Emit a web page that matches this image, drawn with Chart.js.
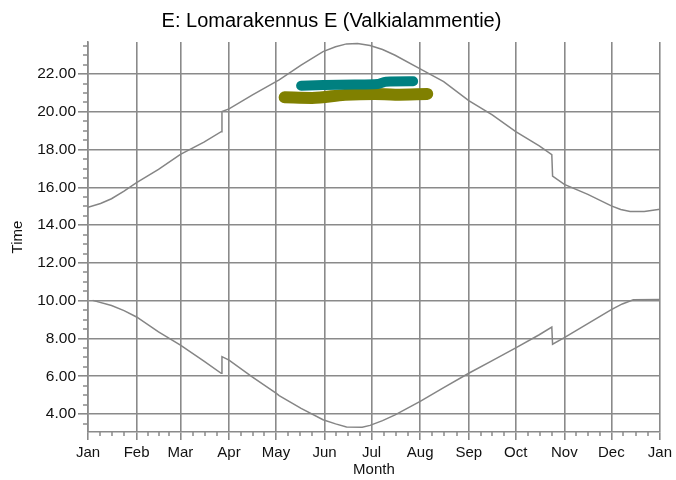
<!DOCTYPE html>
<html lang="en">
<head>
    <meta charset="UTF-8">
    <title>Lomarakennus E</title>
    <script src="https://cdn.jsdelivr.net/npm/chart.js"></script>
    <style>
        body { margin: 0; background: #fff; }
    </style>
</head>
<body>
    <canvas id="myChart" width="676" height="480"></canvas>
    <script>
    // month starts (day of year) and their labels
    const monthDays = [0, 31, 59, 90, 120, 151, 181, 212, 243, 273, 304, 334, 365];
    const monthLabels = ['Jan', 'Feb', 'Mar', 'Apr', 'May', 'Jun', 'Jul', 'Aug', 'Sep', 'Oct', 'Nov', 'Dec', 'Jan'];
    const timeTicks = [4, 6, 8, 10, 12, 14, 16, 18, 20, 22];

    // sunset curve
    const sunsetDays  = [0, 8, 15, 23, 31, 45, 59, 74, 85, 85.5, 90, 105, 120, 122, 136, 150, 158, 165, 172, 180, 188, 196, 212, 227, 243, 258, 273, 288, 296, 296.5, 304, 319, 334, 340, 346, 355, 365];
    const sunsetTimes = [14.95, 15.15, 15.4, 15.8, 16.25, 16.95, 17.75, 18.4, 18.95, 20.02, 20.16, 20.9, 21.6, 21.7, 22.48, 23.19, 23.45, 23.6, 23.62, 23.51, 23.3, 23.0, 22.28, 21.6, 20.6, 19.84, 18.95, 18.2, 17.74, 16.6, 16.16, 15.63, 15.02, 14.83, 14.72, 14.73, 14.84];

    // sunrise curve
    const sunriseDays  = [3, 15, 23, 31, 45, 59, 74, 85, 85.5, 90, 105, 120, 122, 136, 150, 158, 165, 175, 180, 188, 196, 212, 227, 243, 258, 273, 288, 296, 296.5, 304, 319, 334, 341, 348, 365];
    const sunriseTimes = [10.02, 9.75, 9.48, 9.14, 8.35, 7.65, 6.8, 6.16, 7.04, 6.86, 5.95, 5.11, 4.98, 4.3, 3.7, 3.48, 3.32, 3.3, 3.4, 3.65, 3.96, 4.67, 5.4, 6.16, 6.83, 7.5, 8.2, 8.61, 7.7, 8.05, 8.79, 9.53, 9.83, 10.05, 10.07];

    // observation bands
    const tealDays  = [136, 150, 170, 185, 190, 207.5];
    const tealTimes = [21.39, 21.42, 21.45, 21.48, 21.6, 21.62];
    const oliveDays  = [125.5, 143, 164, 183, 196, 216.5];
    const oliveTimes = [20.77, 20.74, 20.9, 20.95, 20.91, 20.95];

    const toXY = (xs, ys) => xs.map((d, i) => ({ x: d, y: ys[i] }));

    const gridColor = '#8a8a8a';
    const fontFamily = 'Arial, "Liberation Sans", sans-serif';

    const minorTicks = {
        id: 'minorTicks',
        afterDraw(chart) {
            const ctx = chart.ctx;
            const x = chart.scales.x;
            const y = chart.scales.y;
            ctx.save();
            ctx.strokeStyle = gridColor;
            ctx.lineWidth = 1.5;
            ctx.beginPath();
            for (let i = 0; i < monthDays.length - 1; i++) {
                const span = monthDays[i + 1] - monthDays[i];
                for (let k = 1; k < 4; k++) {
                    const px = Math.round(x.getPixelForValue(monthDays[i] + k * span / 4));
                    ctx.moveTo(px, y.bottom);
                    ctx.lineTo(px, y.bottom + 4);
                }
            }
            for (let v = 3.5; v <= 23.5; v += 0.5) {
                if (v % 2 === 0) continue;
                const py = Math.round(y.getPixelForValue(v));
                ctx.moveTo(x.left - 5, py);
                ctx.lineTo(x.left, py);
            }
            ctx.stroke();
            ctx.restore();
        }
    };

    const curve = (xs, ys) => ({
        data: toXY(xs, ys),
        borderColor: '#858585',
        borderWidth: 1.5,
        tension: 0,
        pointRadius: 0
    });

    const band = (xs, ys, color, width) => ({
        data: toXY(xs, ys),
        borderColor: color,
        borderWidth: width,
        borderCapStyle: 'round',
        borderJoinStyle: 'round',
        cubicInterpolationMode: 'monotone',
        pointRadius: 0
    });

    new Chart(document.getElementById('myChart'), {
        type: 'line',
        data: {
            datasets: [
                curve(sunsetDays, sunsetTimes),
                curve(sunriseDays, sunriseTimes),
                band(tealDays, tealTimes, '#008080', 10),
                band(oliveDays, oliveTimes, '#808000', 12)
            ]
        },
        options: {
            responsive: false,
            animation: false,
            devicePixelRatio: 1,
            layout: { padding: { left: 0, right: 13, top: 0, bottom: 0 } },
            plugins: {
                legend: { display: false },
                tooltip: { enabled: false },
                title: {
                    display: true,
                    text: 'E: Lomarakennus E (Valkialammentie)',
                    color: '#000',
                    font: { family: fontFamily, size: 20, weight: 'normal' },
                    padding: { top: 9, bottom: 9 }
                }
            },
            scales: {
                x: {
                    type: 'linear',
                    min: 0,
                    max: 365,
                    afterBuildTicks: s => { s.ticks = monthDays.map(v => ({ value: v })); },
                    afterFit: s => { s.height = 48; },
                    ticks: {
                        autoSkip: false,
                        maxRotation: 0,
                        padding: 4,
                        color: '#111',
                        font: { family: fontFamily, size: 15 },
                        callback: (v, i) => monthLabels[i]
                    },
                    grid: { color: gridColor, lineWidth: 1.6, tickLength: 8 },
                    border: { color: gridColor, width: 1.6 },
                    title: {
                        display: true,
                        text: 'Month',
                        color: '#111',
                        font: { family: fontFamily, size: 15 },
                        padding: { top: 0, bottom: 1 }
                    }
                },
                y: {
                    type: 'linear',
                    min: 3.05,
                    max: 23.7,
                    afterBuildTicks: s => { s.ticks = timeTicks.map(v => ({ value: v })); },
                    afterFit: s => { s.width = 88; },
                    ticks: {
                        padding: 2,
                        color: '#111',
                        font: { family: fontFamily, size: 15.5 },
                        callback: v => v.toFixed(2)
                    },
                    grid: { color: gridColor, lineWidth: 1.6, tickLength: 10 },
                    border: { color: gridColor, width: 1.6 },
                    title: {
                        display: true,
                        text: 'Time',
                        color: '#111',
                        font: { family: fontFamily, size: 15 },
                        padding: { top: 9, bottom: 0 }
                    }
                }
            }
        },
        plugins: [minorTicks]
    });
    </script>
</body>
</html>
